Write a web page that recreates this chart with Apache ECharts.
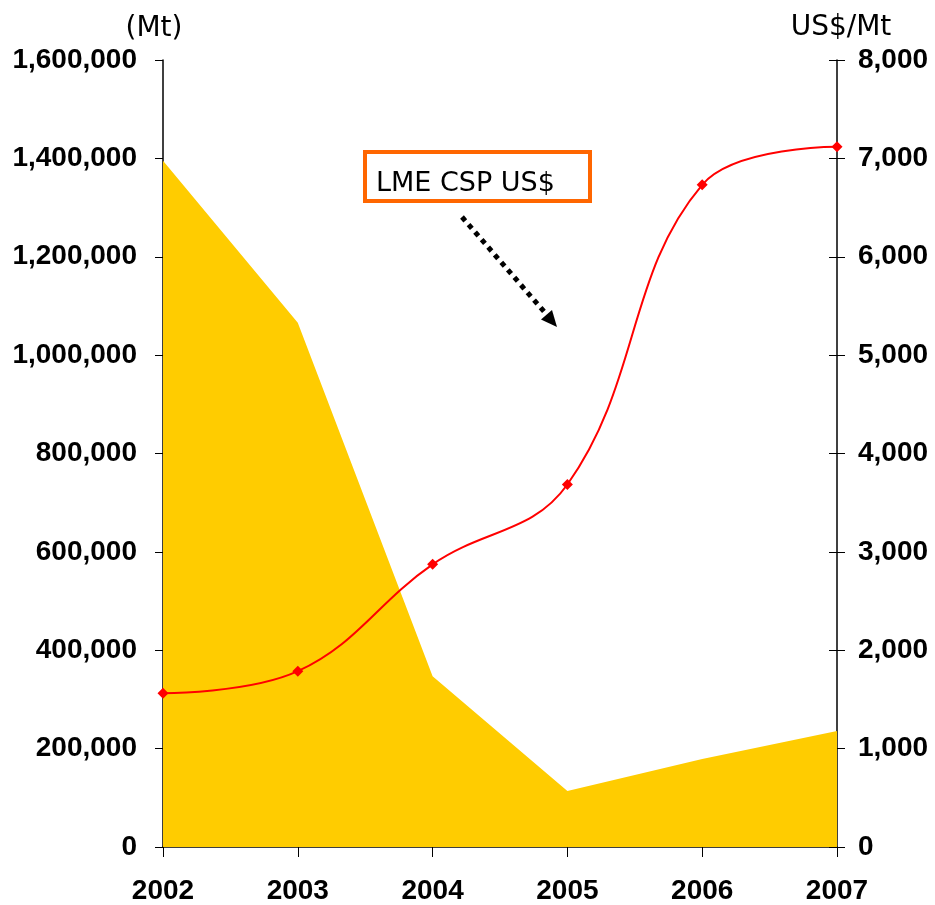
<!DOCTYPE html>
<html>
<head>
<meta charset="utf-8">
<script src="https://cdn.jsdelivr.net/npm/echarts@6/dist/echarts.min.js"></script>
<style>
  html, body { margin: 0; padding: 0; background: #fff; }
  #chart { width: 935px; height: 905px; }
</style>
</head>
<body>
<div id="chart"></div>
<script>
var years = ["2002", "2003", "2004", "2005", "2006", "2007"];
// stocks (Mt), left axis
var stocks = [1395000, 1066000, 347000, 114000, 179000, 236000];
// LME CSP price (US$/Mt), right axis
var price = [1563, 1787, 2873, 3685, 6731, 7117];

var chart = echarts.init(document.getElementById("chart"));

var tickFont = {
  color: "#000",
  fontFamily: "Liberation Sans",
  fontWeight: "bold",
  fontSize: 28
};

var option = {
  animation: false,
  grid: { left: 163, right: 98, top: 60, bottom: 57 },
  xAxis: {
    type: "category",
    data: years,
    boundaryGap: false,
    axisLine: { lineStyle: { color: "#000", width: 1.5 } },
    axisTick: { show: true, length: 10, alignWithLabel: true, lineStyle: { color: "#000" } },
    axisLabel: Object.assign({ margin: 30 }, tickFont),
    splitLine: { show: false }
  },
  yAxis: [
    {
      type: "value",
      position: "left",
      min: 0,
      max: 1600000,
      interval: 200000,
      name: "(Mt)",
      nameLocation: "end",
      nameGap: 17,
      nameTextStyle: {
        color: "#000",
        fontFamily: "DejaVu Sans",
        fontSize: 28,
        padding: [0, 18, 0, 0]
      },
      axisLine: { show: true, lineStyle: { color: "#000", width: 1.5 } },
      axisTick: { show: true, length: 8, lineStyle: { color: "#000" } },
      axisLabel: Object.assign({
        margin: 26,
        formatter: function (v) { return v.toLocaleString("en-US"); }
      }, tickFont),
      splitLine: { show: false }
    },
    {
      type: "value",
      position: "right",
      min: 0,
      max: 8000,
      interval: 1000,
      name: "US$/Mt",
      nameLocation: "end",
      nameGap: 18,
      nameTextStyle: {
        color: "#000",
        fontFamily: "DejaVu Sans",
        fontSize: 28,
        padding: [0, 0, 0, 8]
      },
      axisLine: { show: true, lineStyle: { color: "#000", width: 1.5 } },
      axisTick: { show: true, length: 8, lineStyle: { color: "#000" } },
      axisLabel: Object.assign({
        margin: 21,
        formatter: function (v) { return v.toLocaleString("en-US"); }
      }, tickFont),
      splitLine: { show: false }
    },
    {
      // inner half of the crossing ticks on the right axis
      type: "value",
      position: "right",
      min: 0,
      max: 8000,
      interval: 1000,
      axisLine: { show: false },
      axisTick: { show: true, inside: true, length: 8, lineStyle: { color: "#000" } },
      axisLabel: { show: false },
      splitLine: { show: false }
    }
  ],
  series: [
    {
      name: "Stocks",
      type: "line",
      yAxisIndex: 0,
      data: stocks,
      symbol: "none",
      lineStyle: { width: 0 },
      areaStyle: { color: "#FFCC00", opacity: 1 },
      z: 1
    },
    {
      name: "LME CSP US$",
      type: "line",
      yAxisIndex: 1,
      data: price,
      smooth: 0.4,
      symbol: "diamond",
      symbolSize: 11,
      itemStyle: { color: "#FF0000" },
      lineStyle: { color: "#FF0000", width: 2 },
      z: 3
    }
  ],
  graphic: [
    {
      type: "rect",
      shape: { x: 365, y: 152, width: 225, height: 49 },
      style: { fill: "#fff", stroke: "#FF6600", lineWidth: 4 },
      z: 10
    },
    {
      type: "text",
      x: 376,
      y: 184,
      style: {
        text: "LME CSP US$",
        fill: "#000",
        font: "27px 'DejaVu Sans'",
        textVerticalAlign: "middle"
      },
      z: 11
    },
    {
      type: "line",
      shape: { x1: 462, y1: 217, x2: 547, y2: 315 },
      style: { stroke: "#000", lineWidth: 5, lineDash: [5, 5] },
      z: 10
    },
    {
      type: "polygon",
      shape: { points: [[557, 327], [541, 319.5], [552, 310]] },
      style: { fill: "#000" },
      z: 10
    }
  ]
};

chart.setOption(option);
</script>
</body>
</html>
